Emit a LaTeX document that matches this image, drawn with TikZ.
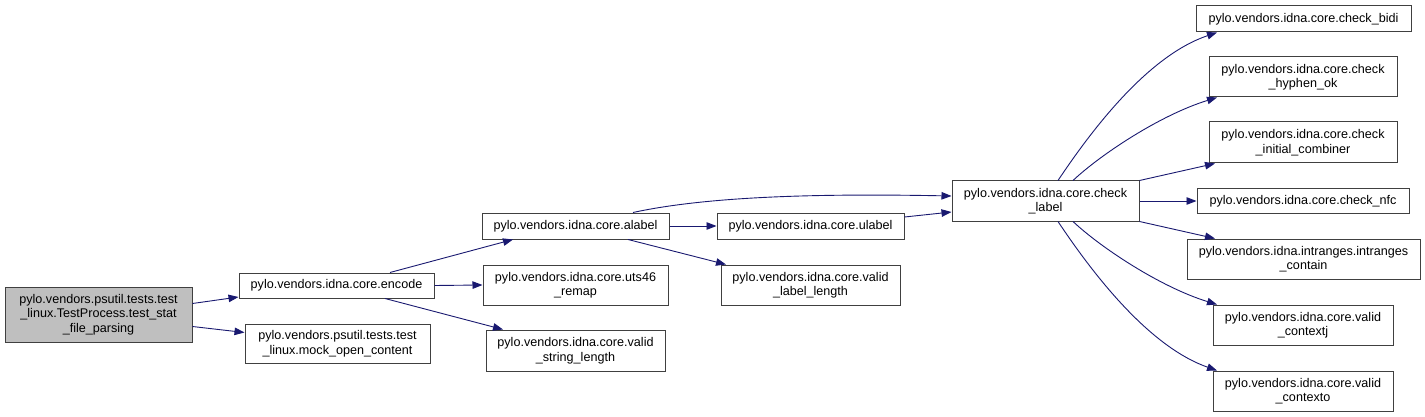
\documentclass[tikz,border=0pt]{standalone}
\usepackage{fontspec}
\setmainfont{Liberation Sans}
\usetikzlibrary{arrows.meta,calc}
\definecolor{edgeblue}{HTML}{191970}
\definecolor{boxline}{HTML}{404040}
\definecolor{rootfill}{HTML}{BFBFBF}
\tikzset{
  fbox/.style={draw=boxline,line width=1pt,fill=white,inner sep=0pt,align=center,
    font=\fontsize{12.6}{14.5}\selectfont},
  rootbox/.style={fbox,fill=rootfill},
  call/.style={draw=edgeblue,line width=0.9pt,-{Triangle[length=10pt,width=7.5pt]}}
}
\begin{document}
\begin{tikzpicture}[x=1pt,y=-1pt]
\useasboundingbox (0,0) rectangle (1425,417);
% nodes
\node[rootbox,minimum width=187pt,minimum height=55pt] (root) at (98.5,314.5)
  {pylo.vendors.psutil.tests.test\\\_linux.TestProcess.test\_stat\\\_file\_parsing};
\node[fbox,minimum width=195pt,minimum height=25pt] (encode) at (336.5,285.5)
  {pylo.vendors.idna.core.encode};
\node[fbox,minimum width=185pt,minimum height=39pt] (mock) at (337.5,343.5)
  {pylo.vendors.psutil.tests.test\\\_linux.mock\_open\_content};
\node[fbox,minimum width=187pt,minimum height=26pt] (alabel) at (575.5,226)
  {pylo.vendors.idna.core.alabel};
\node[fbox,minimum width=185pt,minimum height=40pt] (uts) at (575.5,285)
  {pylo.vendors.idna.core.uts46\\\_remap};
\node[fbox,minimum width=179pt,minimum height=41pt] (vsl) at (575.5,350.5)
  {pylo.vendors.idna.core.valid\\\_string\_length};
\node[fbox,minimum width=187pt,minimum height=26pt] (ulabel) at (810.5,226)
  {pylo.vendors.idna.core.ulabel};
\node[fbox,minimum width=179pt,minimum height=40pt] (vll) at (810.5,285)
  {pylo.vendors.idna.core.valid\\\_label\_length};
\node[fbox,minimum width=187pt,minimum height=40pt] (chk) at (1045.5,201)
  {pylo.vendors.idna.core.check\\\_label};
\node[fbox,minimum width=215pt,minimum height=26pt] (bidi) at (1303.5,19)
  {pylo.vendors.idna.core.check\_bidi};
\node[fbox,minimum width=188pt,minimum height=40pt] (hyph) at (1303,77)
  {pylo.vendors.idna.core.check\\\_hyphen\_ok};
\node[fbox,minimum width=188pt,minimum height=41pt] (init) at (1303,142.5)
  {pylo.vendors.idna.core.check\\\_initial\_combiner};
\node[fbox,minimum width=212pt,minimum height=25pt] (nfc) at (1303,201)
  {pylo.vendors.idna.core.check\_nfc};
\node[fbox,minimum width=233pt,minimum height=40pt] (intr) at (1303.5,259)
  {pylo.vendors.idna.intranges.intranges\\\_contain};
\node[fbox,minimum width=180pt,minimum height=40pt] (ctxj) at (1303,325)
  {pylo.vendors.idna.core.valid\\\_contextj};
\node[fbox,minimum width=180pt,minimum height=40pt] (ctxo) at (1303,391)
  {pylo.vendors.idna.core.valid\\\_contexto};
% edges
\draw[call] ($(root.east)+(0,-11)$) -- ($(encode.west)+(0,11.5)$);
\draw[call] ($(root.east)+(0,12)$) -- ($(mock.west)+(0,-11)$);
\draw[call] ($(encode.north)+(53.5,0)$) -- ($(alabel.south)+(-62.5,0)$);
\draw[call] (encode.east) -- (uts.west);
\draw[call] ($(encode.south)+(48.5,0)$) -- ($(vsl.north)+(-72.5,0)$);
\draw[call] (alabel.east) -- (ulabel.west);
\draw[call] ($(alabel.south)+(52.5,0)$) -- ($(vll.north)+(-84.5,0)$);
\draw[call] ($(alabel.north)+(57.5,0)$) .. controls (700,198) and (800,193) .. ($(chk.west)+(0,-5)$);
\draw[call] ($(ulabel.east)+(0,-9)$) -- ($(chk.west)+(0,11)$);
\draw[call] ($(chk.north)+(12.5,0)$) .. controls (1095,125) and (1150,55) .. ($(bidi.south)+(-86.5,0)$);
\draw[call] ($(chk.north)+(27.5,0)$) .. controls (1100,155) and (1160,115) .. ($(hyph.south)+(-86,0)$);
\draw[call] (chk.north east) -- ($(init.south)+(-88,0)$);
\draw[call] (chk.east) -- (nfc.west);
\draw[call] (chk.south east) -- ($(intr.north)+(-88.5,0)$);
\draw[call] ($(chk.south)+(27.5,0)$) .. controls (1100,247) and (1160,287) .. ($(ctxj.north)+(-86,0)$);
\draw[call] ($(chk.south)+(12.5,0)$) .. controls (1095,277) and (1150,347) .. ($(ctxo.north)+(-86,0)$);
\end{tikzpicture}
\end{document}
